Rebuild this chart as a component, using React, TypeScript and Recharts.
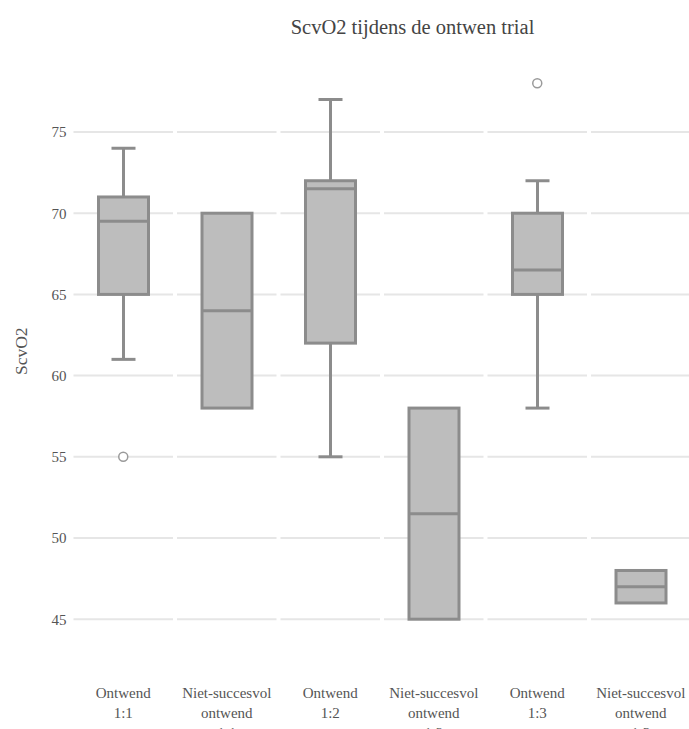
import React from "react";
import { ComposedChart, Bar, Scatter, XAxis, YAxis, CartesianGrid, Label } from "recharts";

// categories and box statistics
const categories = [
  "Ontwend 1:1",
  "Niet-succesvol ontwend 1:1",
  "Ontwend 1:2",
  "Niet-succesvol ontwend 1:2",
  "Ontwend 1:3",
  "Niet-succesvol ontwend 1:3",
];
const whiskerLow = [61, 58, 55, 45, 58, 46];
const q1 = [65, 58, 62, 45, 65, 46];
const median = [69.5, 64, 71.5, 51.5, 66.5, 47];
const q3 = [71, 70, 72, 58, 70, 48];
const whiskerHigh = [74, 70, 77, 58, 72, 48];
const outliers: (number | null)[] = [55, null, null, null, 78, null];
const yTicks = [45, 50, 55, 60, 65, 70, 75];

const rows = categories.map((name, i) => ({
  name,
  range: [whiskerLow[i], whiskerHigh[i]],
  lo: whiskerLow[i],
  hi: whiskerHigh[i],
  q1: q1[i],
  med: median[i],
  q3: q3[i],
  outlier: outliers[i],
}));

const FONT = "'Liberation Serif', 'Times New Roman', serif";
const TEXT = "#555";
const BOX_FILL = "#bdbdbd";
const BOX_LINE = "#8c8c8c";
const PLOT_TOP = 56.5;
const PLOT_BOTTOM = 646;

const BoxShape = (props: any) => {
  const { x, y, width, height, payload } = props;
  const top = Math.min(y, y + height);
  const h = Math.abs(height);
  const { lo, hi } = payload;
  const py = (v: number) => (hi === lo ? top : top + (h * (hi - v)) / (hi - lo));
  const cx = x + width / 2;
  const cap = width * 0.48;
  const yq1 = py(payload.q1);
  const yq3 = py(payload.q3);
  const ymed = py(payload.med);
  const yhi = py(hi);
  const ylo = py(lo);
  return (
    <g>
      {yhi < yq3 && (
        <>
          <line x1={cx} x2={cx} y1={yhi} y2={yq3} stroke={BOX_LINE} strokeWidth={3} />
          <line x1={cx - cap / 2} x2={cx + cap / 2} y1={yhi} y2={yhi} stroke={BOX_LINE} strokeWidth={3} />
        </>
      )}
      {ylo > yq1 && (
        <>
          <line x1={cx} x2={cx} y1={yq1} y2={ylo} stroke={BOX_LINE} strokeWidth={3} />
          <line x1={cx - cap / 2} x2={cx + cap / 2} y1={ylo} y2={ylo} stroke={BOX_LINE} strokeWidth={3} />
        </>
      )}
      <rect x={x} y={yq3} width={width} height={yq1 - yq3} fill={BOX_FILL} stroke={BOX_LINE} strokeWidth={3} />
      <line x1={x} x2={x + width} y1={ymed} y2={ymed} stroke={BOX_LINE} strokeWidth={3} />
    </g>
  );
};

const OutlierShape = (props: any) => {
  const { cx, cy, payload } = props;
  if (payload == null || payload.outlier == null) return <g />;
  return <circle cx={cx} cy={cy} r={4.5} fill="#fff" stroke="#9a9a9a" strokeWidth={1.5} />;
};

const CategoryTick = (props: any) => {
  const { x, y, payload } = props;
  const lines = String(payload.value).split(" ");
  return (
    <text x={x} y={y} textAnchor="middle" fontFamily={FONT} fontSize={15} fill={TEXT}>
      {lines.map((l, i) => (
        <tspan key={i} x={x} dy={i === 0 ? 44 : 20}>
          {l}
        </tspan>
      ))}
    </text>
  );
};

const gridLine = (p: any) => {
  if (p.y1 < PLOT_TOP + 2 || p.y1 > PLOT_BOTTOM - 2) return <g key={`g-${p.index}-${p.y1}`} />;
  const band = (p.x2 - p.x1) / categories.length;
  return (
    <line
      key={`g-${p.index}-${p.y1}`}
      x1={p.x1}
      x2={p.x2}
      y1={p.y1}
      y2={p.y2}
      stroke="#e6e6e6"
      strokeWidth={2}
      strokeDasharray={`${band - 4} 4`}
      strokeDashoffset={-2}
    />
  );
};

export default function App() {
  return (
    <div
      style={{
        position: "fixed",
        left: 0,
        top: 0,
        width: 689,
        height: 729,
        overflow: "hidden",
        background: "#fff",
      }}
    >
      <div
        style={{
          position: "absolute",
          left: 0,
          width: 825,
          top: 16,
          textAlign: "center",
          fontFamily: FONT,
          fontSize: 20.5,
          color: "#444",
        }}
      >
        ScvO2 tijdens de ontwen trial
      </div>
      <ComposedChart
        width={700}
        height={760}
        data={rows}
        margin={{ top: PLOT_TOP, right: 7.5, bottom: 14, left: 11.5 }}
      >
        <CartesianGrid vertical={false} horizontal={gridLine} />
        <XAxis
          dataKey="name"
          type="category"
          interval={0}
          axisLine={false}
          tickLine={false}
          height={100}
          tick={<CategoryTick />}
        />
        <YAxis
          type="number"
          domain={[43.35, 79.65]}
          ticks={yTicks}
          allowDataOverflow
          axisLine={false}
          tickLine={false}
          tickSize={0}
          tickMargin={5}
          width={60}
          tick={{ fontFamily: FONT, fontSize: 15, fill: TEXT }}
        >
          <Label
            content={(lp: any) => {
              const vb = lp.viewBox || { x: 11.5, y: PLOT_TOP, height: 590 };
              const cy = vb.y + vb.height / 2;
              return (
                <text
                  x={21}
                  y={cy}
                  transform={`rotate(-90, 21, ${cy})`}
                  textAnchor="middle"
                  dominantBaseline="central"
                  fontFamily={FONT}
                  fontSize={17.5}
                  fill={TEXT}
                >
                  ScvO2
                </text>
              );
            }}
          />
        </YAxis>
        <Bar dataKey="range" barSize={50} shape={<BoxShape />} isAnimationActive={false} />
        <Scatter dataKey="outlier" shape={<OutlierShape />} isAnimationActive={false} />
      </ComposedChart>
    </div>
  );
}
